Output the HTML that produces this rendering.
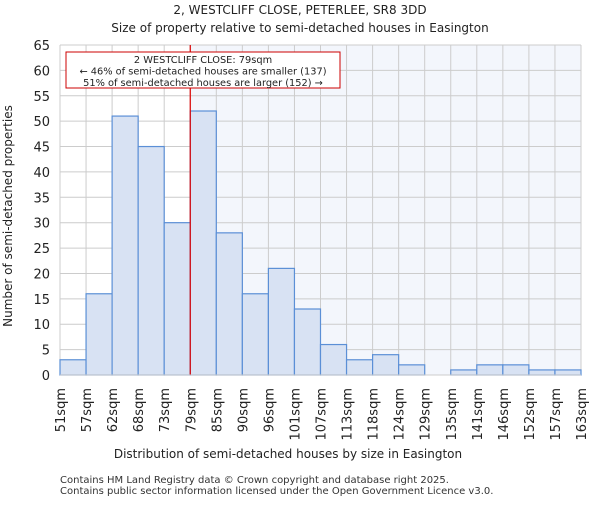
<!DOCTYPE html>
<html><head><meta charset="utf-8"><style>body{margin:0;background:#fff}svg{font-family:"DejaVu Sans","Liberation Sans",sans-serif}</style></head>
<body>
<svg id="c" width="600" height="500" viewBox="0 0 600 500">
<text x="300" y="14" text-anchor="middle" font-size="12" fill="#222">2, WESTCLIFF CLOSE, PETERLEE, SR8 3DD</text>
<text x="300" y="32" text-anchor="middle" font-size="12" fill="#222">Size of property relative to semi-detached houses in Easington</text>
<g id="plot"></g>
<text x="288" y="458" text-anchor="middle" font-size="12" fill="#222">Distribution of semi-detached houses by size in Easington</text>
<text transform="translate(12,216) rotate(-90)" text-anchor="middle" font-size="12" fill="#222">Number of semi-detached properties</text>
<text x="60" y="483" font-size="10" fill="#333">Contains HM Land Registry data © Crown copyright and database right 2025.</text>
<text x="60" y="494" font-size="10" fill="#333">Contains public sector information licensed under the Open Government Licence v3.0.</text>
</svg>
<script>
const labels=["51sqm","57sqm","62sqm","68sqm","73sqm","79sqm","85sqm","90sqm","96sqm","101sqm","107sqm","113sqm","118sqm","124sqm","129sqm","135sqm","141sqm","146sqm","152sqm","157sqm","163sqm"];
const counts=[3,16,51,45,30,52,28,16,21,13,6,3,4,2,0,1,2,2,1,1];
const yTicks=[0,5,10,15,20,25,30,35,40,45,50,55,60,65];
const markerBin=5;
const ns="http://www.w3.org/2000/svg";
const g=document.getElementById("plot");
const X0=60,X1=581,Y0=375,Y1=45,YMAX=65;
const bw=(X1-X0)/counts.length;
const xs=i=>X0+i*bw, ys=v=>Y0-(v/YMAX)*(Y0-Y1);
function mk(t,a){const e=document.createElementNS(ns,t);for(const k in a)e.setAttribute(k,a[k]);g.appendChild(e);return e;}
let e;
e=mk("rect",{x:xs(markerBin),y:Y1,width:X1-xs(markerBin),height:Y0-Y1,fill:"#f3f6fc"});


yTicks.forEach(v=>{
 e=mk("line",{x1:X0,x2:X1,y1:ys(v),y2:ys(v),stroke:"#ccc","stroke-width":1});
 
 
 e=mk("text",{x:X0-10,y:ys(v)+5,"text-anchor":"end","font-size":13,fill:"#222"});e.textContent=v;
 
 
});
labels.forEach((l,i)=>{
 e=mk("line",{x1:xs(i),x2:xs(i),y1:Y1,y2:Y0,stroke:"#ccc","stroke-width":1});
 
 
 e=mk("text",{transform:`translate(${xs(i)+5},388) rotate(-90)`,"text-anchor":"end","font-size":13,fill:"#222"});e.textContent=l;
 
 
});
counts.forEach((c,i)=>{
 if(c<=0)return;
 e=mk("rect",{x:xs(i),y:ys(c),width:bw,height:Y0-ys(c),fill:"#d8e2f3",stroke:"#5b8fd6","stroke-width":1.2});
 
 
});
e=mk("line",{x1:xs(markerBin),x2:xs(markerBin),y1:Y1,y2:Y0,stroke:"#d00","stroke-width":1.2});


e=mk("rect",{x:66,y:52,width:274,height:36,fill:"#fff",stroke:"#c00","stroke-width":1});


["2 WESTCLIFF CLOSE: 79sqm","← 46% of semi-detached houses are smaller (137)","51% of semi-detached houses are larger (152) →"].forEach((t,i)=>{
 e=mk("text",{x:203,y:63+i*11.5,"text-anchor":"middle","font-size":9.8,fill:"#222"});e.textContent=t;
 
 
});
e=mk("line",{x1:X0,x2:X1,y1:Y0,y2:Y0,stroke:"#ccc","stroke-width":1});


</script>
</body></html>
